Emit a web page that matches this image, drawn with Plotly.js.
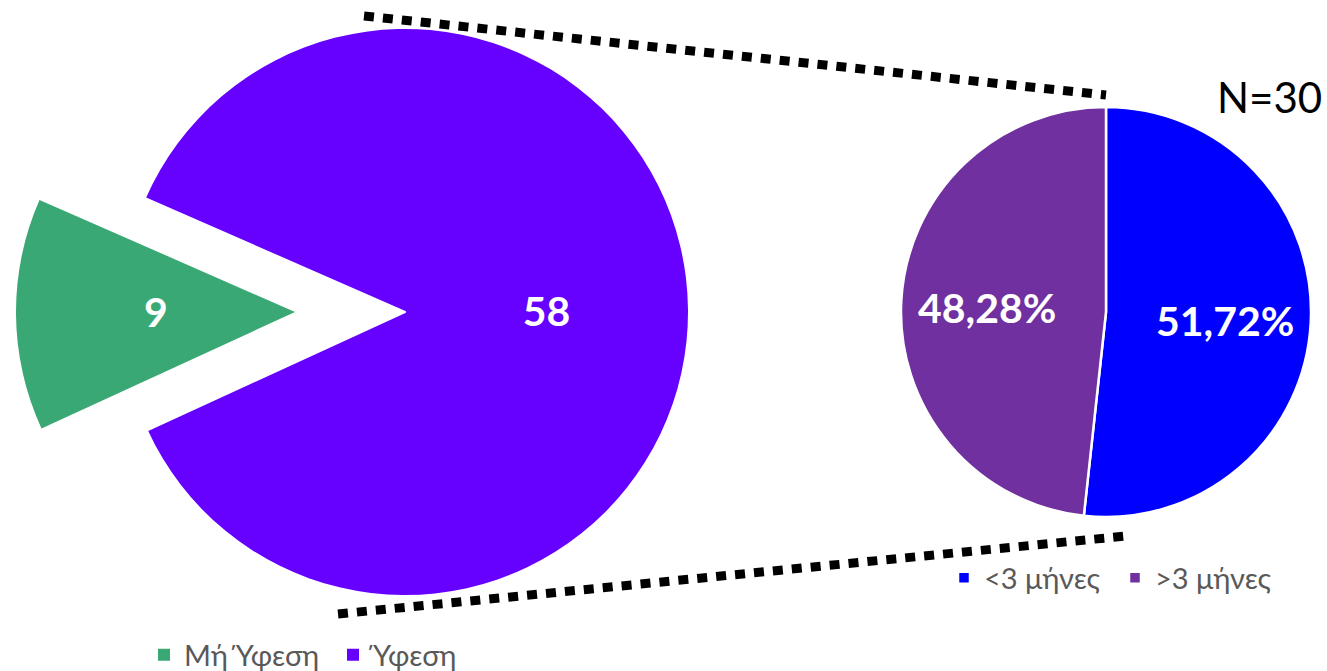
<!DOCTYPE html>
<html>
<head>
<meta charset="utf-8">
<script src="https://cdn.plot.ly/plotly-3.0.1.min.js"></script>
<style>html,body{margin:0;padding:0;background:#fff;}#chart{width:1327px;height:671px;}</style>
</head>
<body>
<div id="chart"></div>
<script>
// ---- data ----
var mainLabels = ['Mή Ύφεση', 'Ύφεση'];
var mainValues = [9, 58];
var mainColors = ['#3AA874', '#6600FF'];

var subLabels = ['<3 μήνες', '>3 μήνες'];
var subValues = [15, 14];
var subColors = ['#0000FF', '#7030A0'];

var nText = 'N=30';

// ---- layout helpers ----
var W = 1327, H = 671;
function dom(cx, cy, r) {
  return {x: [(cx - r) / W, (cx + r) / W], y: [(H - cy - r) / H, (H - cy + r) / H]};
}
var total = mainValues.reduce(function (a, b) { return a + b; }, 0);
var subTotal = subValues.reduce(function (a, b) { return a + b; }, 0);
var rot = 269.5 - 180 * mainValues[0] / total;
if (rot > 180) rot -= 360;

var FONT = 'Lato, "Open Sans", sans-serif';
var labelFont = {family: FONT, size: 41, color: '#FFFFFF', weight: 'bold'};
var transparent = 'rgba(0,0,0,0)';

// pie geometry (pixels)
var mainC = [405, 312], mainR = 283, pullC = [295, 312], pullR = 279;
var subC = [1106, 312], subR = 205;

var traceA = {
  type: 'pie', labels: mainLabels, values: mainValues, sort: false, direction: 'clockwise',
  rotation: rot, domain: dom(mainC[0], mainC[1], mainR),
  marker: {colors: mainColors, line: {width: 0}},
  text: ['', String(mainValues[1])], textinfo: 'text', textposition: 'inside',
  insidetextorientation: 'horizontal', insidetextfont: labelFont,
  hoverinfo: 'none', legend: 'legend', showlegend: true
};
var traceW = {
  type: 'pie', labels: mainLabels, values: mainValues, sort: false, direction: 'clockwise',
  rotation: rot, domain: dom(mainC[0], mainC[1], mainR),
  marker: {colors: ['#FFFFFF', transparent], line: {width: [2, 0], color: ['#FFFFFF', transparent]}},
  textinfo: 'none', hoverinfo: 'none', showlegend: false
};
var traceB = {
  type: 'pie', labels: mainLabels, values: mainValues, sort: false, direction: 'clockwise',
  rotation: rot, domain: dom(pullC[0], pullC[1], pullR),
  marker: {colors: [mainColors[0], transparent], line: {width: 0}},
  textinfo: 'none', hoverinfo: 'none', showlegend: false
};
var traceR = {
  type: 'pie', labels: subLabels, values: subValues, sort: false, direction: 'clockwise',
  rotation: 0, domain: dom(subC[0], subC[1], subR),
  marker: {colors: subColors, line: {width: 2.5, color: '#FFFFFF'}},
  textinfo: 'none', hoverinfo: 'none', legend: 'legend2', showlegend: true
};

function pct(v) { return (100 * v / subTotal).toFixed(2).replace('.', ',') + '%'; }
function lbl(text, px, py) {
  return {text: text, xref: 'paper', yref: 'paper', x: px / W, y: (H - py) / H,
          xanchor: 'center', yanchor: 'middle', showarrow: false, font: labelFont};
}

var legFont = {family: FONT, size: 29, color: '#595959'};
var dotLine = {color: '#000000', width: 9, dash: '10px,9px'};

var layout = {
  width: W, height: H,
  margin: {l: 0, r: 0, t: 0, b: 0, autoexpand: false},
  paper_bgcolor: '#FFFFFF',
  separators: ',.',
  showlegend: true,
  legend: {orientation: 'h', x: 144 / W, y: (H - 655) / H, xanchor: 'left', yanchor: 'middle', font: legFont, bgcolor: transparent, entrywidth: 144},
  legend2: {orientation: 'h', x: 944 / W, y: (H - 578) / H, xanchor: 'left', yanchor: 'middle', font: legFont, bgcolor: transparent, entrywidth: 126},
  shapes: [
    {type: 'line', xref: 'paper', yref: 'paper', x0: 364 / W, y0: (H - 16) / H, x1: 1106 / W, y1: (H - 95) / H, line: dotLine, layer: 'above'},
    {type: 'line', xref: 'paper', yref: 'paper', x0: 338 / W, y0: (H - 614) / H, x1: 1126 / W, y1: (H - 536) / H, line: dotLine, layer: 'above'}
  ],
  annotations: [
    {text: nText, xref: 'paper', yref: 'paper', x: 1269 / W, y: (H - 97) / H, xanchor: 'center', yanchor: 'middle', showarrow: false,
     font: {family: FONT, size: 42, color: '#000000'}},
    lbl(String(mainValues[0]), pullC[0] - 0.49 * mainR, pullC[1]),
    lbl(pct(subValues[0]), subC[0] + 0.58 * subR, subC[1] + 8),
    lbl(pct(subValues[1]), subC[0] - 0.58 * subR, subC[1] - 4)
  ]
};

Plotly.newPlot('chart', [traceA, traceW, traceB, traceR], layout, {displayModeBar: false, staticPlot: true});
</script>
</body>
</html>
